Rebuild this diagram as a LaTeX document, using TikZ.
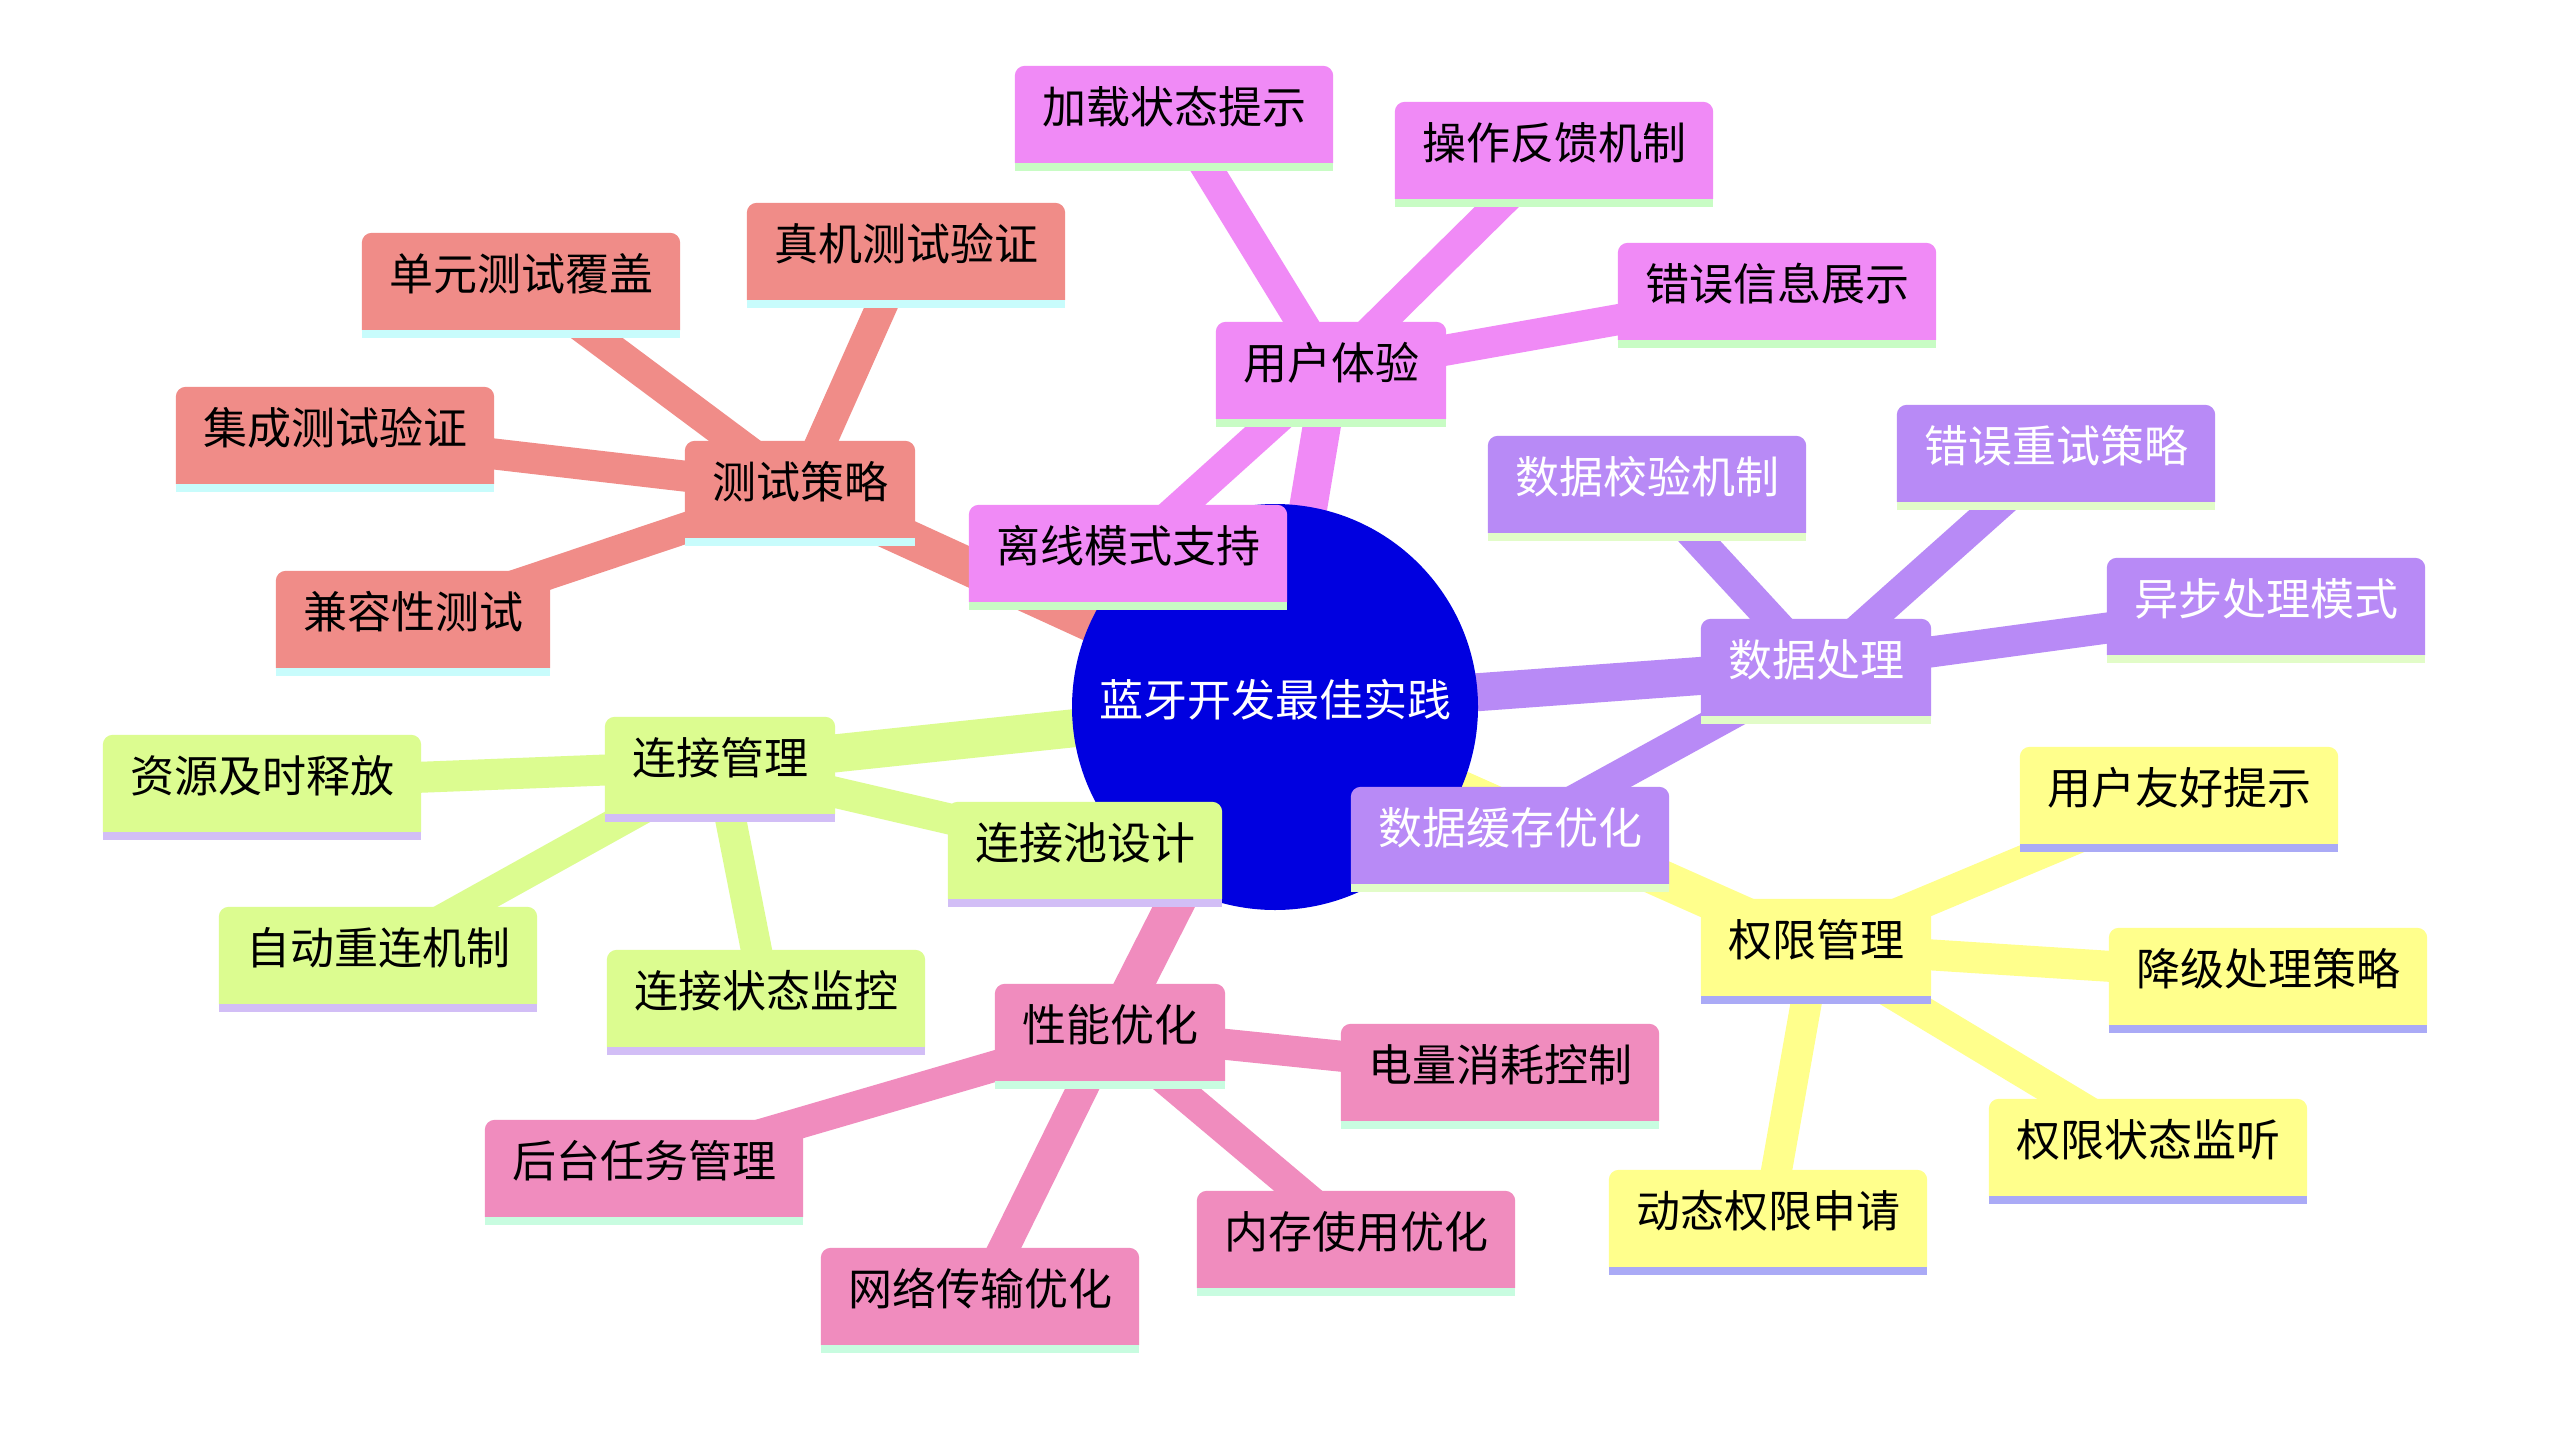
\documentclass[tikz,border=0pt]{standalone}
\usepackage{fontspec}
\newfontfamily\cjk{Noto Sans CJK SC}
\pgfdeclarelayer{bg}
\pgfdeclarelayer{edges}
\pgfdeclarelayer{boxes}
\pgfsetlayers{bg,edges,boxes,main}
\definecolor{cRoot}{HTML}{0000E0}
\definecolor{cRed}{HTML}{F08C88}\definecolor{sRed}{HTML}{C8FCFC}
\definecolor{cMag}{HTML}{F08AF6}\definecolor{sMag}{HTML}{C8FCC4}
\definecolor{cPur}{HTML}{B88AF6}\definecolor{sPur}{HTML}{E2FCC8}
\definecolor{cYel}{HTML}{FFFF8C}\definecolor{sYel}{HTML}{AAAAF6}
\definecolor{cGrn}{HTML}{DCFC90}\definecolor{sGrn}{HTML}{D2BEF6}
\definecolor{cPnk}{HTML}{F08CBE}\definecolor{sPnk}{HTML}{C8FCE0}
\tikzset{
  mmtext/.style={inner xsep=27pt, inner ysep=0pt, text height=57.5pt, text depth=39.5pt,
    font=\cjk\fontsize{44}{50}\selectfont},
  rootedge/.style={line width=38pt},
  leafedge/.style={line width=31pt}
}
% name, center x, top y, text, colour key, text colour
\newcommand\mmnode[6]{%
  \node[mmtext, text=#6] (#1) at (#2,#3+48.5) {#4};
  \begin{pgfonlayer}{boxes}
    \fill[c#5] (#1.south west) [rounded corners=10pt] -- (#1.north west) -- (#1.north east) [sharp corners] -- (#1.south east) -- cycle;
    \fill[s#5] (#1.south west) rectangle ([yshift=-8pt]#1.south east);
  \end{pgfonlayer}}
\newcommand\mmedge[4]{%
  \begin{pgfonlayer}{edges}
    \draw[#3, #4] (#1.center) -- (#2.center);
  \end{pgfonlayer}}
\begin{document}
\begin{tikzpicture}[x=1pt,y=-1pt]
\begin{pgfonlayer}{bg}
  \fill[white] (0,0) rectangle (2572,1448);
\end{pgfonlayer}
\useasboundingbox (0,0) rectangle (2572,1448);
% root
\begin{pgfonlayer}{boxes}
  \fill[cRoot] (1275,707) circle (203pt);
\end{pgfonlayer}
\node[mmtext, text=white, inner xsep=0pt] (root) at (1275,707) {蓝牙开发最佳实践};
% red section
\mmnode{ts}{800}{441}{测试策略}{Red}{black}
\mmnode{zj}{906}{203}{真机测试验证}{Red}{black}
\mmnode{dy}{521}{233}{单元测试覆盖}{Red}{black}
\mmnode{jc}{335}{387}{集成测试验证}{Red}{black}
\mmnode{jr}{413}{571}{兼容性测试}{Red}{black}
% magenta section
\mmnode{yh}{1331}{322}{用户体验}{Mag}{black}
\mmnode{jz}{1174}{66}{加载状态提示}{Mag}{black}
\mmnode{cz}{1554}{102}{操作反馈机制}{Mag}{black}
\mmnode{cw}{1777}{243}{错误信息展示}{Mag}{black}
% purple section
\mmnode{sj}{1816}{619}{数据处理}{Pur}{white}
\mmnode{jy}{1647}{436}{数据校验机制}{Pur}{white}
\mmnode{cs}{2056}{405}{错误重试策略}{Pur}{white}
\mmnode{yb}{2266}{558}{异步处理模式}{Pur}{white}
% yellow section
\mmnode{qx}{1816}{899}{权限管理}{Yel}{black}
\mmnode{yy}{2179}{747}{用户友好提示}{Yel}{black}
\mmnode{jj}{2268}{928}{降级处理策略}{Yel}{black}
\mmnode{jt}{2148}{1099}{权限状态监听}{Yel}{black}
\mmnode{dt}{1768}{1170}{动态权限申请}{Yel}{black}
% pink section
\mmnode{xn}{1110}{984}{性能优化}{Pnk}{black}
\mmnode{dl}{1500}{1024}{电量消耗控制}{Pnk}{black}
\mmnode{nc}{1356}{1191}{内存使用优化}{Pnk}{black}
\mmnode{wl}{980}{1248}{网络传输优化}{Pnk}{black}
\mmnode{ht}{644}{1120}{后台任务管理}{Pnk}{black}
% green section
\mmnode{lj}{720}{717}{连接管理}{Grn}{black}
\mmnode{zy}{262}{735}{资源及时释放}{Grn}{black}
\mmnode{zd}{378}{907}{自动重连机制}{Grn}{black}
\mmnode{zt}{766}{950}{连接状态监控}{Grn}{black}
% leaves overlapping the root (drawn after it)
\mmnode{lx}{1128}{505}{离线模式支持}{Mag}{black}
\mmnode{hc}{1510}{787}{数据缓存优化}{Pur}{white}
\mmnode{lc}{1085}{802}{连接池设计}{Grn}{black}
% edges
\mmedge{root}{ts}{cRed}{rootedge}
\mmedge{ts}{zj}{cRed}{leafedge}
\mmedge{ts}{dy}{cRed}{leafedge}
\mmedge{ts}{jc}{cRed}{leafedge}
\mmedge{ts}{jr}{cRed}{leafedge}
\mmedge{root}{yh}{cMag}{rootedge}
\mmedge{yh}{jz}{cMag}{leafedge}
\mmedge{yh}{cz}{cMag}{leafedge}
\mmedge{yh}{cw}{cMag}{leafedge}
\mmedge{yh}{lx}{cMag}{leafedge}
\mmedge{root}{sj}{cPur}{rootedge}
\mmedge{sj}{jy}{cPur}{leafedge}
\mmedge{sj}{cs}{cPur}{leafedge}
\mmedge{sj}{yb}{cPur}{leafedge}
\mmedge{sj}{hc}{cPur}{leafedge}
\mmedge{root}{qx}{cYel}{rootedge}
\mmedge{qx}{yy}{cYel}{leafedge}
\mmedge{qx}{jj}{cYel}{leafedge}
\mmedge{qx}{jt}{cYel}{leafedge}
\mmedge{qx}{dt}{cYel}{leafedge}
\mmedge{root}{xn}{cPnk}{rootedge}
\mmedge{xn}{dl}{cPnk}{leafedge}
\mmedge{xn}{nc}{cPnk}{leafedge}
\mmedge{xn}{wl}{cPnk}{leafedge}
\mmedge{xn}{ht}{cPnk}{leafedge}
\mmedge{root}{lj}{cGrn}{rootedge}
\mmedge{lj}{zy}{cGrn}{leafedge}
\mmedge{lj}{zd}{cGrn}{leafedge}
\mmedge{lj}{zt}{cGrn}{leafedge}
\mmedge{lj}{lc}{cGrn}{leafedge}
\end{tikzpicture}
\end{document}
